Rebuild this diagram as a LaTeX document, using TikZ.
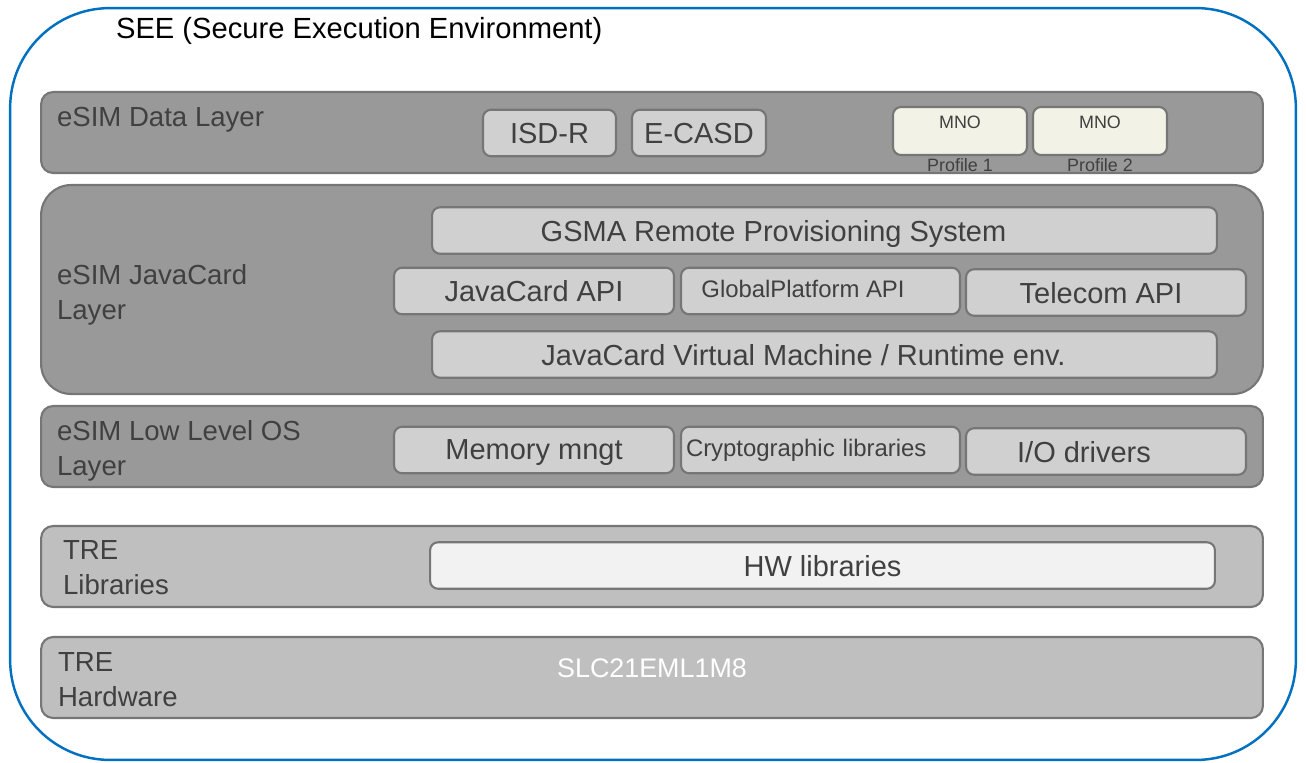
\documentclass[tikz,border=0pt]{standalone}
\usepackage{fontspec}
\setmainfont{Liberation Sans}
\usetikzlibrary{positioning}

\definecolor{seeblue}{HTML}{0070C0}
\definecolor{layerdark}{HTML}{999999}
\definecolor{layerlight}{HTML}{BFBFBF}
\definecolor{boxgray}{HTML}{D0D0D0}
\definecolor{edgegray}{HTML}{767676}
\definecolor{txtgray}{HTML}{404040}
\definecolor{cream}{HTML}{F2F2E6}
\definecolor{hwwhite}{HTML}{F2F2F2}

\begin{document}
\begin{tikzpicture}[x = 0.02cm, y = -0.02cm, line width = 1.2pt,
	layer/.style = {draw=edgegray, rounded corners=0.24cm, minimum width=24.44cm, minimum height=1.62cm},
	inbox/.style = {draw=edgegray, fill=boxgray, rounded corners=0.16cm, minimum height=0.93cm, text depth=0pt, text=txtgray, font=\fontsize{16.5}{20}\selectfont},
	lbl/.style = {anchor=west, align=left, text=txtgray, inner sep=0pt, font=\fontsize{15.7}{19.8}\selectfont},
	small/.style = {font=\fontsize{13.6}{16}\selectfont},
	profile/.style = {draw=edgegray, fill=cream, rounded corners=0.16cm, minimum width=2.68cm, minimum height=0.96cm},
	tiny/.style = {text=txtgray, inner sep=1pt, font=\fontsize{10.2}{12}\selectfont}]

\useasboundingbox (0,0) rectangle (1306,762);

\node[draw=seeblue, line width=1.4pt, rounded corners=2cm, minimum width=25.72cm, minimum height=15.04cm]	(see)		at (653,384)	{};
\node[anchor=west, inner sep=0pt, font=\fontsize{16.6}{20}\selectfont]	(seetitle)	at (115,31)	{SEE (Secure Execution Environment)};

\node[layer, fill=layerdark]										(data)		at (652,132.5)	{};
\node[layer, fill=layerdark, minimum height=4.18cm, rounded corners=0.6cm]	(javacard)	at (652,289.5)	{};
\node[layer, fill=layerdark]										(lowos)		at (652,446.5)	{};
\node[layer, fill=layerlight]										(trelib)	at (652,566.5)	{};
\node[layer, fill=layerlight]										(trehw)		at (652,677.5)	{};

\node[lbl]		(datalbl)	at (56,120)		{eSIM Data Layer};
\node[lbl]		(jclbl)		at (56,295)		{eSIM JavaCard\\Layer};
\node[lbl]		(oslbl)		at (56,451)		{eSIM Low Level OS\\Layer};
\node[lbl]		(liblbl)	at (62,568)		{TRE\\Libraries};
\node[lbl]		(hwlbl)		at (57,680)		{TRE\\Hardware};

\node[inbox, minimum width=2.66cm]		(isdr)		at (549.5,133)	{ISD-R};
\node[inbox, minimum width=2.68cm]		(ecasd)		at (699,133)	{E-CASD};
\node[profile, label={[tiny, anchor=north, yshift=-4pt]north:MNO}, label={[tiny, anchor=north, yshift=0pt]south:Profile 1}]	(mno1)	at (960,131)	{};
\node[profile, label={[tiny, anchor=north, yshift=-4pt]north:MNO}, label={[tiny, anchor=north, yshift=0pt]south:Profile 2}]	(mno2)	at (1100,131)	{};

\node[inbox, minimum width=15.7cm]		(gsma)		at (824.5,230.5)	{GSMA Remote Provisioning System\hspace*{2.04cm}};
\node[inbox, minimum width=5.6cm]		(jcapi)		at (534,291)		{JavaCard API};
\node[inbox, small, minimum width=5.58cm]	(gpapi)		at (820.5,291)		{\raisebox{3pt}{GlobalPlatform API}\hspace*{0.7cm}};
\node[inbox, minimum width=5.6cm]		(telapi)	at (1106,292.5)		{Telecom API\hspace*{0.2cm}};
\node[inbox, minimum width=15.7cm]		(jcvm)		at (824.5,354.5)	{JavaCard Virtual Machine / Runtime env.\hspace*{0.84cm}};

\node[inbox, minimum width=5.6cm]		(memmgt)	at (534,450)		{Memory mngt};
\node[inbox, small, text width=5.38cm, inner xsep=0.1cm, align=left]	(crypto)	at (820.5,450)	{\raisebox{3pt}{Cryptographic libraries}};
\node[inbox, minimum width=5.6cm]		(iodrv)		at (1106,451.5)		{I/O drivers\hspace*{0.88cm}};

\node[inbox, fill=hwwhite, minimum width=15.7cm]	(hwlib)		at (822.5,565.5)	{HW libraries};
\node[text=white, font=\fontsize{15.3}{18}\selectfont]	(slc)	at (652,668)	{SLC21EML1M8};

\end{tikzpicture}
\end{document}
